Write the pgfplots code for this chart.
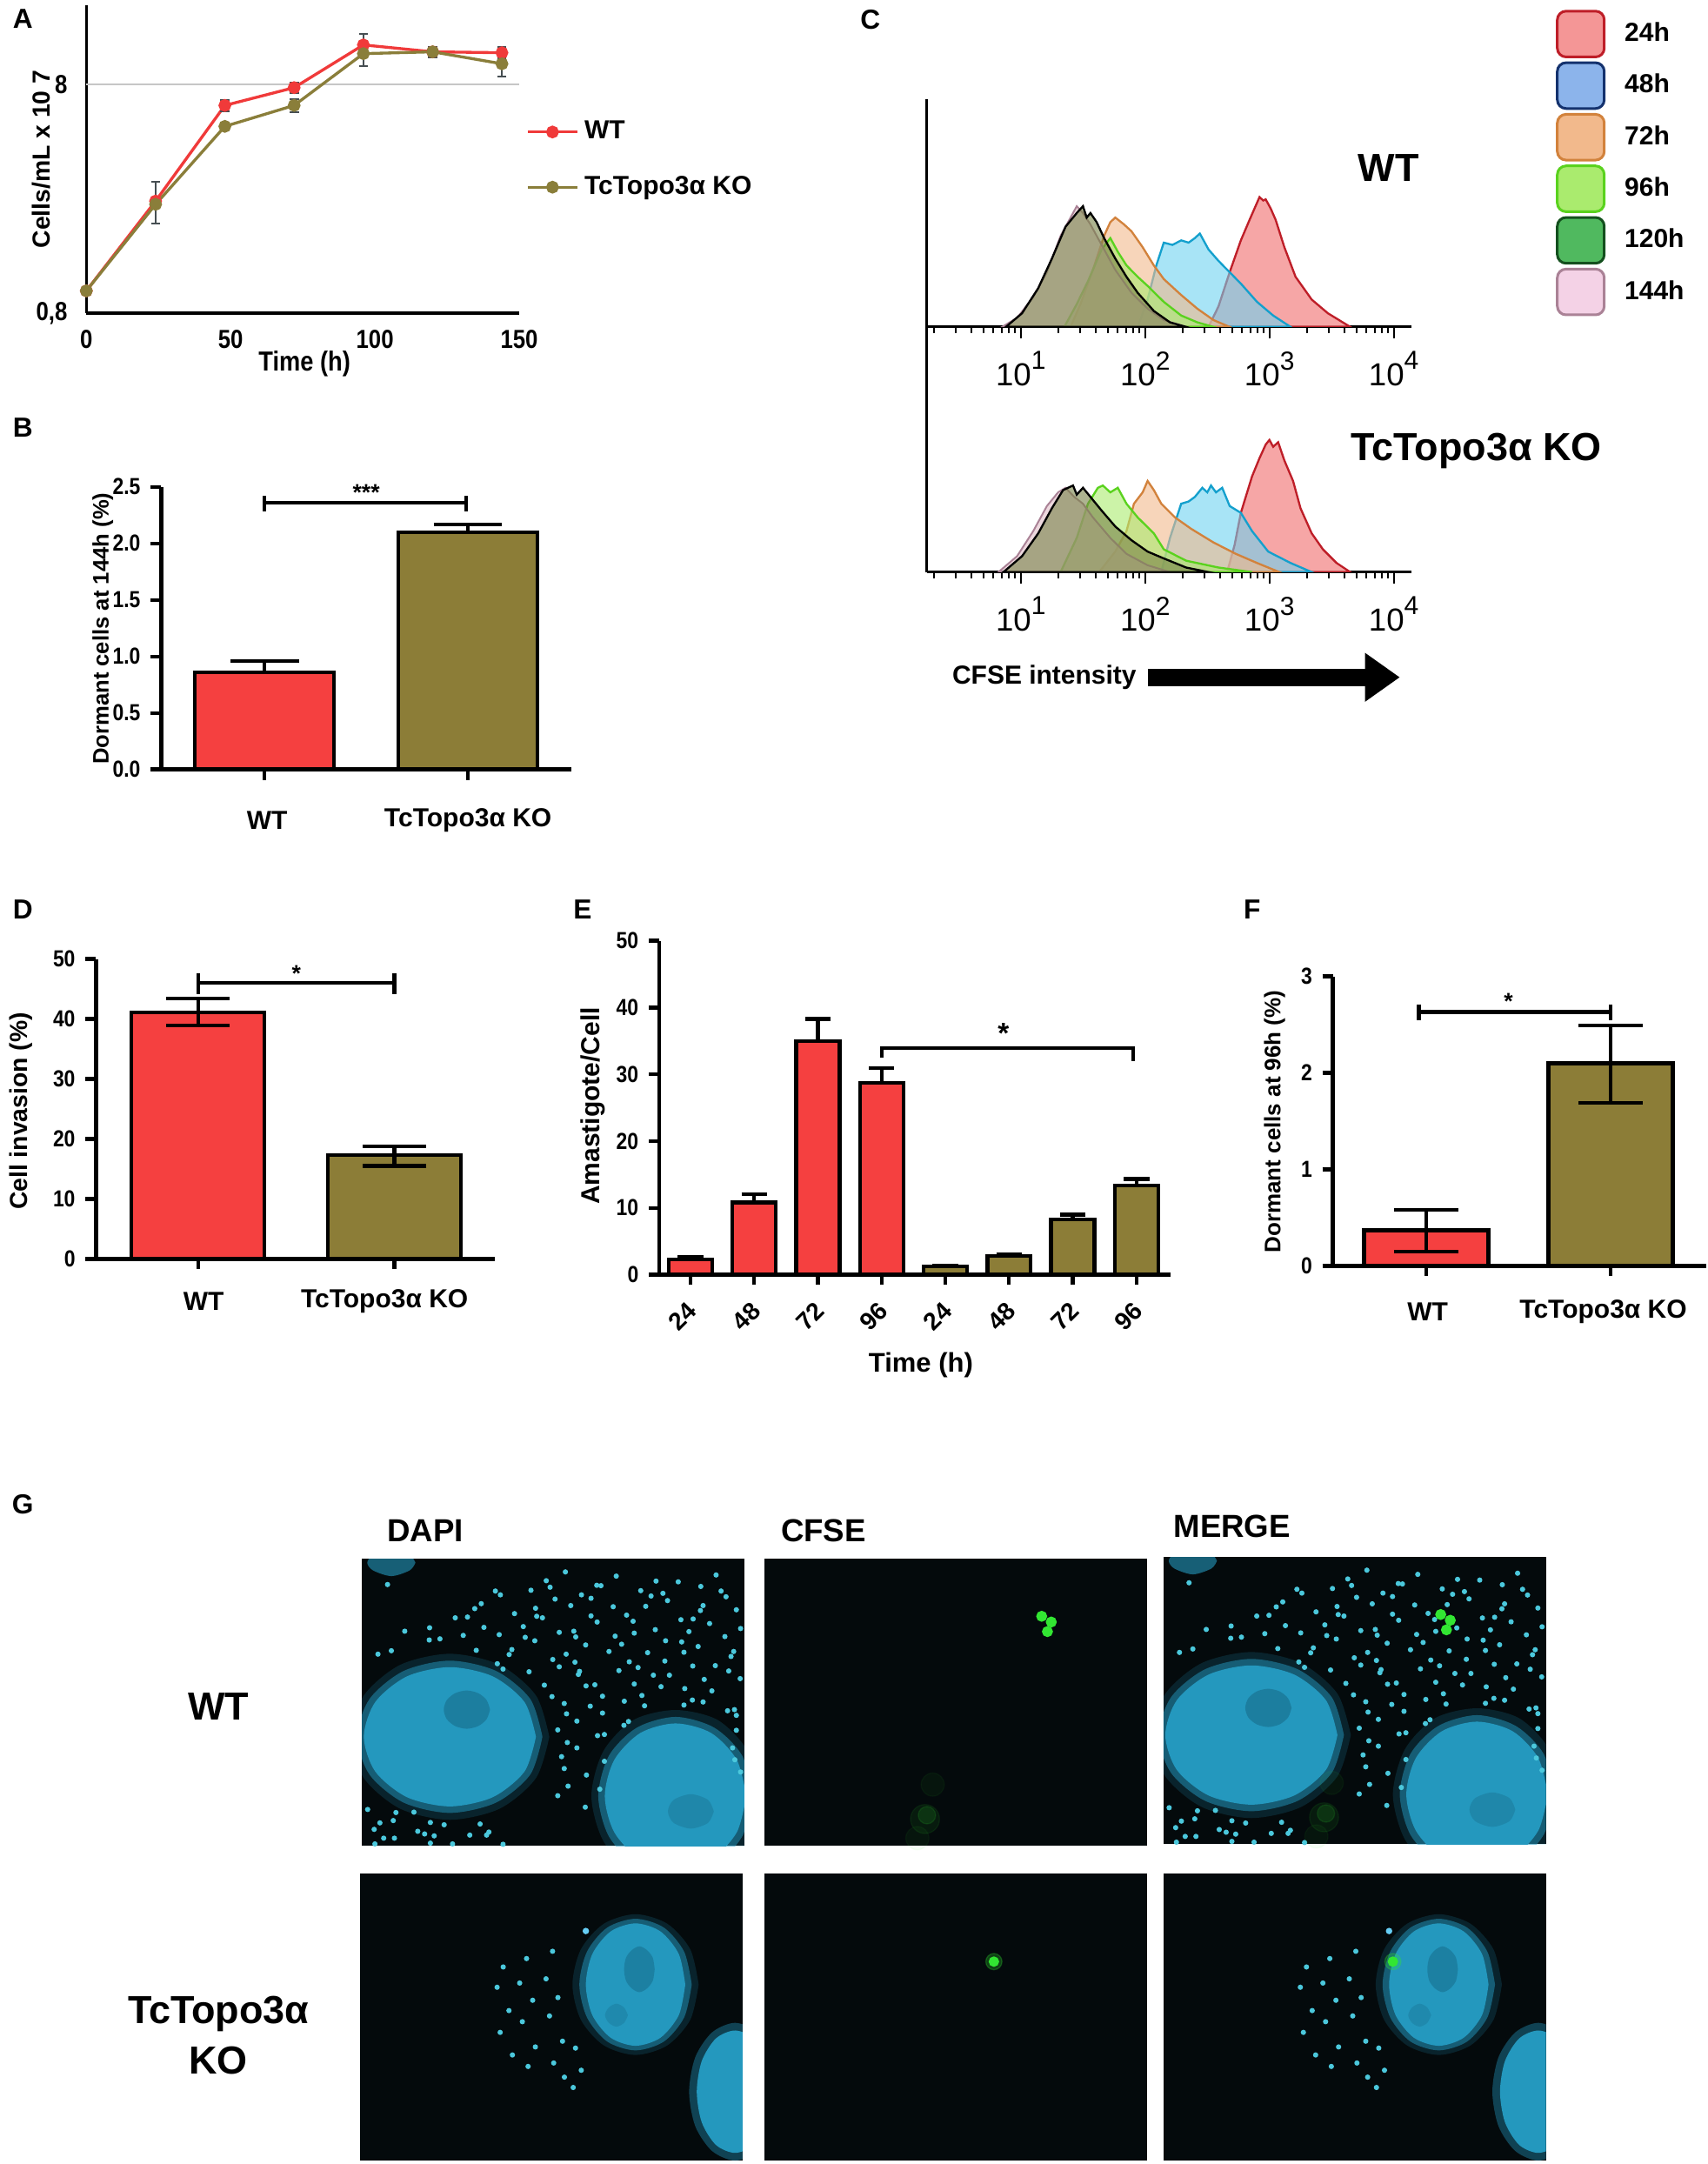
\documentclass[border=0pt]{standalone}
\usepackage{fontspec}
\setmainfont{Liberation Sans}
\newfontfamily\nb[FakeStretch=0.86]{Liberation Sans}
\usepackage{pgfplots}
\usepackage{pgfplotstable}
\pgfplotsset{compat=1.18}
\usetikzlibrary{arrows.meta}
\newcommand\fs[1]{\fontsize{#1pt}{#1pt}\selectfont}
\newcommand\tp[1]{10\raisebox{0.95ex}{\fs{9}#1}}
\definecolor{wtred}{RGB}{245,64,64}
\definecolor{kool}{RGB}{140,125,55}
\definecolor{lred}{RGB}{240,58,58}
\definecolor{lol}{RGB}{138,126,58}
\definecolor{errg}{RGB}{70,78,82}
\definecolor{c24f}{RGB}{244,150,150}\definecolor{c24d}{RGB}{190,30,40}
\definecolor{c48f}{RGB}{110,210,240}\definecolor{c48d}{RGB}{20,160,205}
\definecolor{c48l}{RGB}{140,180,235}\definecolor{c48ld}{RGB}{20,50,110}
\definecolor{c72f}{RGB}{242,185,140}\definecolor{c72d}{RGB}{210,130,60}
\definecolor{c96f}{RGB}{170,235,110}\definecolor{c96d}{RGB}{90,210,30}
\definecolor{c120f}{RGB}{120,130,70}\definecolor{c120l}{RGB}{80,185,95}\definecolor{c120ld}{RGB}{20,80,30}
\definecolor{c144f}{RGB}{225,190,200}\definecolor{c144d}{RGB}{170,130,150}
\definecolor{c144l}{RGB}{244,210,230}
\definecolor{imgbg}{RGB}{4,10,12}
\definecolor{nuc}{RGB}{36,152,190}
\definecolor{nucd}{RGB}{22,105,135}
\definecolor{dotc}{RGB}{75,200,220}
\definecolor{gfp}{RGB}{50,230,50}

\pgfplotstableread{
x y
48.2 69.3
53.2 71.6
61.4 68.1
66.5 70.5
76.9 69.2
82.7 69.0
92.6 70.8
34.9 66.6
44.2 66.8
49.2 67.6
57.4 65.6
62.5 68.0
72.9 66.7
78.7 66.0
88.6 67.8
93.9 66.6
31.2 63.3
36.2 65.6
45.4 62.1
50.5 64.5
59.9 64.7
65.7 62.5
75.6 65.3
79.9 64.1
89.2 62.8
95.2 65.1
24.4 59.6
29.5 62.0
39.9 60.7
45.7 60.0
54.6 62.8
59.9 60.1
69.2 60.3
74.2 62.6
83.4 59.1
88.5 61.5
97.9 61.7
17.7 57.0
27.6 59.8
31.9 57.1
42.2 57.3
47.2 59.6
55.4 56.1
61.5 58.5
70.9 58.7
76.7 56.5
86.6 59.3
90.9 58.1
99.0 56.8
11.2 56.1
20.4 54.1
26.5 55.0
35.9 55.2
42.7 54.5
51.6 55.8
55.9 54.6
66.2 54.8
71.2 55.6
79.4 53.6
85.5 56.0
94.9 54.7
7.7 51.0
17.6 53.8
29.9 51.1
39.2 51.3
45.2 53.6
53.4 50.1
58.5 52.5
67.9 52.7
74.7 50.5
83.6 53.3
87.9 52.1
97.2 50.8
4.2 50.1
35.4 47.6
38.5 50.0
49.9 48.7
55.7 48.0
64.6 50.8
69.9 48.1
79.2 48.3
84.2 50.6
92.4 47.1
96.5 49.5
36.9 46.2
43.7 45.5
51.6 46.8
56.9 45.6
67.2 45.8
72.2 46.6
80.4 44.6
86.5 47.0
95.9 45.7
47.7 42.0
56.6 44.8
60.9 42.1
71.2 42.3
76.2 44.6
84.4 41.1
89.5 43.5
98.9 43.7
49.7 39.0
58.6 41.8
62.9 39.1
73.2 39.3
78.2 41.6
86.4 38.1
91.5 40.5
52.9 37.2
59.7 36.5
68.6 37.8
73.9 36.6
84.2 36.8
89.2 37.6
97.4 35.6
53.5 34.5
62.9 34.7
69.7 32.5
95.6 35.3
97.9 34.1
51.2 30.3
56.2 32.6
63.4 29.1
68.5 31.5
97.9 30.2
53.7 27.0
61.6 28.8
96.9 25.6
52.2 23.3
56.2 25.6
63.4 22.1
97.5 22.5
52.9 20.2
58.7 18.5
99.0 19.3
53.9 15.6
62.2 14.8
51.2 13.1
58.4 10.1
1.5 9.5
8.9 8.7
4.7 6.0
13.6 8.8
17.9 6.1
3.2 4.3
8.2 6.6
16.4 3.1
21.5 5.5
30.9 5.7
5.7 2.0
14.6 3.8
18.9 2.6
28.2 2.8
33.2 3.6
3.4 0.5
8.5 2.0
17.9 0.7
23.7 0.5
32.6 2.8
36.9 0.4
6.7 68.3
}\wtdots

\pgfplotstableread{
x y
37.4 50.6
35.8 45.3
38.9 39.2
36.6 33.5
39.8 27.6
43.5 52.8
41.7 46.4
45.1 41.9
42.4 36.3
45.8 29.7
43.9 24.6
50.3 54.7
48.6 47.5
51.7 42.6
49.5 37.8
52.9 31.2
50.6 25.5
53.4 21.8
56.3 29.4
57.8 23.6
55.7 19.1
}\kodots

\newcommand\wtdapi{%
\addplot[fill=nuc, draw=none, opacity=0.18, smooth] coordinates {(49,28.5)(45.5,39.3)(36,47.3)(23,50.2)(10,47.3)(0.5,39.3)(-3,28.5)(0.5,17.7)(10,9.7)(23,6.8)(36,9.7)(45.5,17.7)(49,28.5)};
\addplot[fill=nuc, draw=none, opacity=0.5, smooth] coordinates {(47.2,28.5)(44,38.4)(35.1,45.7)(23,48.4)(10.9,45.7)(2,38.4)(-1.2,28.5)(2,18.6)(10.9,11.3)(23,8.6)(35.1,11.3)(44,18.6)(47.2,28.5)};
\addplot[fill=nuc, draw=none, smooth] coordinates {(45.5,28.5)(42.5,37.6)(34.2,44.3)(23,46.7)(11.8,44.3)(3.5,37.6)(0.5,28.5)(3.5,19.4)(11.8,12.7)(23,10.3)(34.2,12.7)(42.5,19.4)(45.5,28.5)};
\addplot[fill=nucd, draw=none, opacity=0.55, smooth] coordinates {(33.5,35.6)(32.6,38.1)(30.4,39.9)(27.4,40.6)(24.4,39.9)(22.2,38.1)(21.4,35.6)(22.2,33.1)(24.4,31.3)(27.4,30.6)(30.4,31.3)(32.6,33.1)(33.5,35.6)};
\addplot[fill=nuc, draw=none, opacity=0.18, smooth] coordinates {(104,13)(100.9,24.7)(93,32.9)(82,35.5)(71,32.9)(63.1,24.7)(60,13)(63.1,1.3)(71,-6.9)(82,-9.5)(93,-6.9)(100.9,1.3)(104,13)};
\addplot[fill=nuc, draw=none, opacity=0.5, smooth] coordinates {(102.2,13)(99.4,23.6)(92.1,30.9)(82,33.7)(71.9,30.9)(64.6,23.6)(61.8,13)(64.6,2.4)(71.9,-4.9)(82,-7.7)(92.1,-4.9)(99.4,2.4)(102.2,13)};
\addplot[fill=nuc, draw=none, smooth] coordinates {(100.5,13)(98,22.5)(91.3,29.5)(82,32)(72.8,29.5)(66,22.5)(63.5,13)(66,3.5)(72.8,-3.5)(82,-6)(91.3,-3.5)(98,3.5)(100.5,13)};
\addplot[fill=nucd, draw=none, opacity=0.35, smooth] coordinates {(92,9)(90.5,12)(86,13.5)(81.5,12)(80,9)(81.5,6)(86,4.5)(90.5,6)(92,9)};
\addplot[fill=nuc, draw=none, opacity=0.6, smooth] coordinates {(14,74)(12.5,76)(7.7,77.5)(2.9,76)(1.4,74)(2.9,72)(7.7,70.5)(12.5,72)(14,74)};
\addplot[only marks, mark=*, mark size=0.7pt, color=dotc, mark options={draw=none}] table {\wtdots};
}
\newcommand\kodapi{%
\addplot[fill=nuc, draw=none, opacity=0.18, smooth] coordinates {(88.5,46)(86.3,55.2)(80.3,61.9)(72,64.4)(63.7,61.9)(57.7,55.2)(55.5,46)(57.7,36.8)(63.7,30.1)(72,27.6)(80.3,30.1)(86.3,36.8)(88.5,46)};
\addplot[fill=nuc, draw=none, opacity=0.5, smooth] coordinates {(86.7,46)(84.7,54.6)(79.4,60.9)(72,63.2)(64.6,60.9)(59.3,54.6)(57.3,46)(59.3,37.4)(64.6,31.1)(72,28.8)(79.4,31.1)(84.7,37.4)(86.7,46)};
\addplot[fill=nuc, draw=none, smooth] coordinates {(85,46)(83.3,54)(78.5,59.9)(72,62)(65.5,59.9)(60.7,54)(59,46)(60.7,38)(65.5,32.1)(72,30)(78.5,32.1)(83.3,38)(85,46)};
\addplot[fill=nucd, draw=none, opacity=0.5, smooth] coordinates {(77,50)(76.5,53)(75,55)(73,56)(71,55)(69.5,53)(69,50)(69.5,47)(71,45)(73,44)(75,45)(76.5,47)(77,50)};
\addplot[fill=nucd, draw=none, opacity=0.3, smooth] coordinates {(70,38)(69,40)(67,41)(65,40)(64,38)(65,36)(67,35)(69,36)(70,38)};
\addplot[fill=nuc, draw=none, opacity=0.4, smooth] coordinates {(110,18)(108.4,27)(104,33.5)(98,36)(92,33.5)(87.6,27)(86,18)(87.6,9)(92,2.5)(98,0)(104,2.5)(108.4,9)(110,18)};
\addplot[fill=nuc, draw=none, smooth] coordinates {(108,18)(106.7,26)(103,31.9)(98,34)(93,31.9)(89.3,26)(88,18)(89.3,10)(93,4.1)(98,2)(103,4.1)(106.7,10)(108,18)};
\addplot[only marks, mark=*, mark size=0.7pt, color=dotc, mark options={draw=none}] table {\kodots};
\addplot[only marks, mark=*, mark size=0.9pt, color=cyan!60!white, mark options={draw=none}] coordinates {(59,60)};
}
\newcommand\wtgfp{%
\addplot[only marks, mark=*, mark size=5pt, color=gfp, opacity=0.08, mark options={draw=none}] coordinates {(42,7)};
\addplot[only marks, mark=*, mark size=3pt, color=gfp, opacity=0.12, mark options={draw=none}] coordinates {(42.5,8)};
\addplot[only marks, mark=*, mark size=4pt, color=gfp, opacity=0.05, mark options={draw=none}] coordinates {(44,16)(40,2)};
\addplot[only marks, mark=*, mark size=1.7pt, color=gfp, mark options={draw=none}] coordinates {(72.5,60)(75,58.5)(74,56)};
}
\newcommand\kogfp{%
\addplot[only marks, mark=*, mark size=2.8pt, color=gfp, opacity=0.25, mark options={draw=none}] coordinates {(60,52)};
\addplot[only marks, mark=*, mark size=1.6pt, color=gfp, mark options={draw=none}] coordinates {(60,52)};
}

\pgfplotsset{
 gp/.style={scale only axis, anchor=south west, axis lines*=left,
  axis line style={line width=1.4pt,-}, tick align=outside, major tick length=3.6pt,
  tick style={line width=1.3pt, black}, ytick pos=left, xtick pos=bottom,
  yticklabel style={font=\nb\bfseries\fs{8}}, /pgf/number format/assume math mode=true,
  xticklabels={}, clip=false},
 ebar/.style 2 args={error bars/.cd, y dir=#2, y explicit, error bar style={line width=1.3pt, black},
  error mark options={rotate=90, line width=1.3pt, mark size=#1, black}},
 hist/.style={scale only axis, anchor=south west, width=167.1pt, xmin=0.245, xmax=4.14, ymin=0,
  axis x line*=bottom, axis y line*=left, axis line style={line width=0.9pt,-},
  ytick=\empty, xtick={1,2,3,4}, xticklabels={\tp1,\tp2,\tp3,\tp4},
  xticklabel style={font=\fs{11}, yshift=-1pt},
  minor xtick={0.301,0.477,0.602,0.699,0.778,0.845,0.903,0.954,1.301,1.477,1.602,1.699,1.778,1.845,1.903,1.954,2.301,2.477,2.602,2.699,2.778,2.845,2.903,2.954,3.301,3.477,3.602,3.699,3.778,3.845,3.903,3.954},
  tick align=outside, major tick length=4pt, minor tick length=2.2pt, tick style={black, line width=0.6pt}},
 img/.style={scale only axis, anchor=south west, width=132pt, height=99pt, xmin=0, xmax=100, ymin=0, ymax=75,
  axis lines=none, ticks=none, axis background/.style={fill=imgbg}, clip=true}
}

\begin{document}
\begin{tikzpicture}
\begin{scope}[x=0.3pt,y=-0.3pt]
\useasboundingbox (0,0) rectangle (1955,2488);
\end{scope}

%================ A
\begin{axis}[at={(92*0.3pt,-359*0.3pt)}, anchor=south west, scale only axis, width=149.4pt, height=106.2pt,
  xmin=0, xmax=150, ymode=log, ymin=0.8, ymax=17.75,
  axis lines*=left, axis line style={line width=1pt,-},
  xtick={0,50,100,150}, ytick={0.8,8}, yticklabels={{0,8},8}, yminorticks=false,
  major tick length=0pt, /pgf/number format/assume math mode=true,
  xticklabel style={font=\nb\bfseries\fs{9}, yshift=-2.5pt},
  yticklabel style={font=\nb\bfseries\fs{9}, xshift=-3pt},
  legend style={at={(1.015,0.645)}, anchor=north west, draw=none, fill=none,
    font=\bfseries\fs{9}, row sep=7.3pt, inner sep=0pt},
  legend cell align=left, clip=false]
\addplot[gray!45, line width=0.5pt, forget plot] coordinates {(0,8)(150,8)};
\addplot[lred, line width=1pt, mark=*, mark size=1.7pt] coordinates {(0,1.0)(24,2.47)(48,6.47)(72,7.74)(96,11.9)(120,11.1)(144,11.0)};
\addlegendentry{WT}
\addplot[lol, line width=1pt, mark=*, mark size=1.7pt] coordinates {(0,1.0)(24,2.39)(48,5.24)(72,6.47)(96,10.9)(120,11.1)(144,9.84)};
\addlegendentry{TcTopo3α KO}
\addplot[draw=none, mark=none, forget plot, error bars/.cd, y dir=both, y explicit,
  error bar style={errg, line width=0.6pt}, error mark options={rotate=90, errg, line width=0.6pt, mark size=1.6pt}]
  coordinates {(24,2.39) += (0,0.6) -= (0,0.42) (48,6.47) +- (0,0.38) (72,7.74) +- (0,0.43) (72,6.47) +- (0,0.45) (96,11.9) += (0,1.35) -= (0,0.9) (96,10.9) += (0,0.8) -= (0,1.26) (120,11.1) +- (0,0.6) (144,11.0) += (0,0.7) -= (0,0.5) (144,9.84) += (0,0.6) -= (0,1.2)};
\end{axis}

%================ B
\begin{axis}[gp, at={(178*0.3pt,-884*0.3pt)}, width=141.6pt, height=97.5pt, xmin=-0.509, xmax=1.509, ymin=0, ymax=2.5,
  xtick={0,1}, ytick={0,0.5,1,1.5,2,2.5},
  yticklabel style={/pgf/number format/.cd, fixed, fixed zerofill, precision=1}]
\addplot[ybar, bar shift=0pt, bar width=0.684, fill=wtred, draw=black, line width=1.3pt, ebar={11.8pt}{plus}]
  coordinates {(0,0.86) +- (0,0.10)};
\addplot[ybar, bar shift=0pt, bar width=0.684, fill=kool, draw=black, line width=1.3pt, ebar={11.8pt}{plus}]
  coordinates {(1,2.10) +- (0,0.07)};
\addplot[black, line width=1.3pt] coordinates {(0,2.36)(0.99,2.36)};
\addplot[black, line width=1.3pt] coordinates {(0,2.42)(0,2.28)};
\addplot[black, line width=1.3pt] coordinates {(0.99,2.42)(0.99,2.28)};
\node[font=\bfseries\fs{8}] at (axis cs:0.5,2.45) {***};
\end{axis}

%================ C top
\begin{axis}[hist, at={(1059*0.3pt,-375*0.3pt)}, height=78.6pt, ymax=1,
  legend style={at={(1.28,1.42)}, anchor=north west, draw=none, fill=none,
   font=\bfseries\fs{9}, row sep=1.1pt, nodes={inner sep=1.6pt}, column sep=5pt},
  legend cell align=left,
  legend image code/.code={\draw[rounded corners=3pt, line width=0.9pt, #1] (0pt,-7.9pt) rectangle (16.2pt,7.9pt);}]
\addlegendimage{fill=c24f, draw=c24d}\addlegendentry{24h}
\addlegendimage{fill=c48l, draw=c48ld}\addlegendentry{48h}
\addlegendimage{fill=c72f, draw=c72d}\addlegendentry{72h}
\addlegendimage{fill=c96f, draw=c96d}\addlegendentry{96h}
\addlegendimage{fill=c120l, draw=c120ld}\addlegendentry{120h}
\addlegendimage{fill=c144l, draw=c144d}\addlegendentry{144h}
\addplot[forget plot, fill=c24f, fill opacity=0.85, draw=c24d, line width=0.7pt] coordinates {(2.51,0)(2.59,0.09)(2.68,0.24)(2.77,0.38)(2.84,0.47)(2.88,0.52)(2.92,0.57)(2.95,0.555)(2.97,0.56)(3.01,0.52)(3.05,0.47)(3.12,0.35)(3.21,0.22)(3.34,0.12)(3.47,0.06)(3.65,0)} \closedcycle;
\addplot[forget plot, fill=c48f, fill opacity=0.6, draw=c48d, line width=0.7pt] coordinates {(1.94,0)(2.02,0.12)(2.09,0.27)(2.15,0.37)(2.22,0.36)(2.29,0.38)(2.35,0.37)(2.40,0.39)(2.44,0.41)(2.47,0.38)(2.51,0.34)(2.59,0.29)(2.68,0.24)(2.77,0.19)(2.90,0.11)(3.03,0.05)(3.17,0)} \closedcycle;
\addplot[forget plot, fill=c72f, fill opacity=0.6, draw=c72d, line width=0.7pt] coordinates {(1.40,0)(1.48,0.10)(1.58,0.25)(1.67,0.40)(1.72,0.46)(1.76,0.48)(1.83,0.45)(1.89,0.42)(1.98,0.35)(2.07,0.27)(2.15,0.21)(2.29,0.14)(2.42,0.08)(2.55,0.03)(2.68,0)} \closedcycle;
\addplot[forget plot, fill=c96f, fill opacity=0.6, draw=c96d, line width=0.7pt] coordinates {(1.35,0)(1.45,0.10)(1.54,0.20)(1.65,0.34)(1.72,0.39)(1.78,0.33)(1.85,0.27)(1.94,0.22)(2.02,0.18)(2.15,0.11)(2.29,0.05)(2.42,0.02)(2.55,0)} \closedcycle;
\addplot[forget plot, fill=c144f, fill opacity=0.6, draw=c144d, line width=0.6pt] coordinates {(0.85,0)(0.97,0.04)(1.10,0.13)(1.21,0.24)(1.32,0.40)(1.38,0.46)(1.41,0.49)(1.45,0.53)(1.50,0.50)(1.56,0.45)(1.65,0.36)(1.76,0.25)(1.89,0.15)(2.02,0.08)(2.15,0.03)(2.33,0)} \closedcycle;
\addplot[forget plot, fill=c120f, fill opacity=0.6, draw=black, line width=0.7pt] coordinates {(0.88,0)(1.01,0.06)(1.14,0.17)(1.25,0.30)(1.36,0.44)(1.42,0.48)(1.45,0.50)(1.50,0.53)(1.53,0.48)(1.56,0.50)(1.61,0.46)(1.67,0.39)(1.76,0.30)(1.85,0.22)(1.94,0.15)(2.07,0.07)(2.20,0.02)(2.33,0)} \closedcycle;
\end{axis}
%================ C bottom
\begin{axis}[hist, at={(1059*0.3pt,-657*0.3pt)}, height=84.6pt, ymax=1.076]
\addplot[fill=c24f, fill opacity=0.85, draw=c24d, line width=0.7pt] coordinates {(2.66,0)(2.72,0.12)(2.77,0.26)(2.86,0.42)(2.92,0.50)(2.97,0.56)(3.00,0.58)(3.03,0.55)(3.07,0.57)(3.12,0.49)(3.19,0.40)(3.25,0.28)(3.34,0.17)(3.43,0.10)(3.54,0.04)(3.65,0)} \closedcycle;
\addplot[fill=c48f, fill opacity=0.6, draw=c48d, line width=0.7pt] coordinates {(2.13,0)(2.20,0.15)(2.29,0.30)(2.35,0.31)(2.40,0.33)(2.46,0.37)(2.50,0.35)(2.53,0.38)(2.57,0.35)(2.62,0.37)(2.68,0.29)(2.77,0.26)(2.86,0.18)(2.99,0.09)(3.17,0.04)(3.34,0)} \closedcycle;
\addplot[fill=c72f, fill opacity=0.6, draw=c72d, line width=0.7pt] coordinates {(1.63,0)(1.76,0.09)(1.85,0.18)(1.91,0.30)(1.98,0.35)(2.02,0.40)(2.07,0.36)(2.13,0.30)(2.24,0.24)(2.37,0.19)(2.55,0.13)(2.73,0.08)(2.90,0.04)(3.08,0)} \closedcycle;
\addplot[fill=c96f, fill opacity=0.6, draw=c96d, line width=0.7pt] coordinates {(1.32,0)(1.45,0.15)(1.54,0.30)(1.62,0.37)(1.66,0.38)(1.72,0.35)(1.78,0.37)(1.85,0.30)(1.94,0.24)(2.07,0.17)(2.15,0.10)(2.33,0.05)(2.59,0.02)(2.86,0)} \closedcycle;
\addplot[fill=c144f, fill opacity=0.6, draw=c144d, line width=0.6pt] coordinates {(0.82,0)(0.97,0.07)(1.10,0.18)(1.21,0.29)(1.30,0.35)(1.36,0.37)(1.43,0.33)(1.50,0.30)(1.58,0.24)(1.72,0.15)(1.85,0.08)(2.02,0.03)(2.20,0)} \closedcycle;
\addplot[fill=c120f, fill opacity=0.6, draw=black, line width=0.7pt] coordinates {(0.86,0)(1.01,0.07)(1.14,0.17)(1.25,0.28)(1.34,0.36)(1.42,0.38)(1.45,0.34)(1.50,0.37)(1.56,0.33)(1.65,0.27)(1.76,0.20)(1.89,0.14)(2.02,0.09)(2.15,0.06)(2.33,0.02)(2.51,0)} \closedcycle;
\end{axis}

%================ D
\begin{axis}[gp, at={(103*0.3pt,-1447*0.3pt)}, width=137.7pt, height=103.5pt, xmin=-0.52, xmax=1.511, ymin=0, ymax=50,
  xtick={0,1}, ytick={0,10,20,30,40,50}]
\addplot[ybar, bar shift=0pt, bar width=0.677, fill=wtred, draw=black, line width=1.3pt, ebar={11pt}{both}]
  coordinates {(0,41.1) += (0,2.3) -= (0,2.2)};
\addplot[ybar, bar shift=0pt, bar width=0.677, fill=kool, draw=black, line width=1.3pt, ebar={11pt}{both}]
  coordinates {(1,17.3) += (0,1.5) -= (0,1.8)};
\addplot[black, line width=1.3pt] coordinates {(0,46)(1,46)};
\addplot[black, line width=1.3pt] coordinates {(0,47.6)(0,44.2)};
\addplot[black, line width=1.3pt] coordinates {(1,47.6)(1,44.2)};
\node[font=\bfseries\fs{8}] at (axis cs:0.5,47.6) {*};
\end{axis}

%================ E
\begin{axis}[gp, at={(751*0.3pt,-1465*0.3pt)}, width=176.4pt, height=115.2pt, xmin=-0.491, xmax=7.531, ymin=0, ymax=50,
  xtick={0,1,2,3,4,5,6,7}, ytick={0,10,20,30,40,50},
  xticklabels={24,48,72,96,24,48,72,96},
  xticklabel style={font=\bfseries\fs{8.5}, inner sep=0.6pt, xshift=1.2pt, yshift=-6.8pt, rotate=45, anchor=east}]
\addplot[ybar, bar shift=0pt, bar width=0.682, fill=wtred, draw=black, line width=1.3pt, ebar={4.4pt}{plus}]
  coordinates {(0,2.3) +- (0,0.3) (1,10.8) +- (0,1.2) (2,35.0) +- (0,3.3) (3,28.7) +- (0,2.2)};
\addplot[ybar, bar shift=0pt, bar width=0.682, fill=kool, draw=black, line width=1.3pt, ebar={4.4pt}{plus}]
  coordinates {(4,1.2) +- (0,0.15) (5,2.8) +- (0,0.25) (6,8.3) +- (0,0.7) (7,13.3) +- (0,1.0)};
\addplot[black, line width=1.3pt] coordinates {(3,32.5)(3,33.9)(6.95,33.9)(6.95,32.0)};
\node[font=\bfseries\fs{10}] at (axis cs:4.91,36.2) {*};
\end{axis}

%================ F
\begin{axis}[gp, at={(1526*0.3pt,-1455*0.3pt)}, width=128.7pt, height=99.9pt, xmin=-0.507, xmax=1.517, ymin=0, ymax=3,
  xtick={0,1}, ytick={0,1,2,3}]
\addplot[ybar, bar shift=0pt, bar width=0.675, fill=wtred, draw=black, line width=1.3pt, ebar={11pt}{both}]
  coordinates {(0,0.37) += (0,0.21) -= (0,0.22)};
\addplot[ybar, bar shift=0pt, bar width=0.675, fill=kool, draw=black, line width=1.3pt, ebar={11pt}{both}]
  coordinates {(1,2.10) += (0,0.39) -= (0,0.41)};
\addplot[black, line width=1.3pt] coordinates {(-0.04,2.63)(1,2.63)};
\addplot[black, line width=1.3pt] coordinates {(-0.04,2.71)(-0.04,2.55)};
\addplot[black, line width=1.3pt] coordinates {(1,2.71)(1,2.55)};
\node[font=\bfseries\fs{8}] at (axis cs:0.446,2.74) {*};
\end{axis}

%================ G
\begin{axis}[img, at={(409*0.3pt,-2122*0.3pt)}]
\wtdapi
\end{axis}
\begin{axis}[img, at={(872*0.3pt,-2122*0.3pt)}]
\wtgfp
\end{axis}
\begin{axis}[img, at={(1331*0.3pt,-2120*0.3pt)}]
\wtdapi
\wtgfp
\end{axis}
\begin{axis}[img, at={(407*0.3pt,-2484*0.3pt)}]
\kodapi
\end{axis}
\begin{axis}[img, at={(872*0.3pt,-2484*0.3pt)}]
\kogfp
\end{axis}
\begin{axis}[img, at={(1331*0.3pt,-2484*0.3pt)}]
\kodapi
\kogfp
\end{axis}

\begin{scope}[x=0.3pt,y=-0.3pt]
\node[font=\bfseries\fs{9.5}] at (19,21) {A};
\node[font=\bfseries\fs{8.5}, rotate=90] at (40,182) {Cells/mL x 10 7};
\node[font=\nb\bfseries\fs{9.5}] at (343,417) {Time (h)};
\node[font=\bfseries\fs{9.5}] at (19,491) {B};
\node[font=\bfseries\fs{7.7}, rotate=90] at (111,722) {Dormant cells at 144h (\%)};
\node[font=\bfseries\fs{9}] at (300,943) {WT};
\node[font=\bfseries\fs{9}] at (531,943) {TcTopo3α KO};
\node[font=\bfseries\fs{9.5}] at (994,22) {C};
\node[font=\bfseries\fs{13.5}] at (1590,192) {WT};
\node[font=\bfseries\fs{13.5}] at (1691,518) {TcTopo3α KO};
\node[font=\bfseries\fs{9}] at (1194,778) {CFSE intensity};
\draw[line width=6pt, -{Triangle[length=12pt, width=16pt]}] (1313,778) -- (1603,778);
\node[font=\bfseries\fs{9.5}] at (19,1045) {D};
\node[font=\bfseries\fs{8.5}, rotate=90] at (17,1277) {Cell invasion (\%)};
\node[font=\bfseries\fs{9}] at (227,1496) {WT};
\node[font=\bfseries\fs{9}] at (435,1496) {TcTopo3α KO};
\node[font=\bfseries\fs{9.5}] at (663,1045) {E};
\node[font=\bfseries\fs{9}, rotate=90] at (675,1271) {Amastigote/Cell};
\node[font=\bfseries\fs{9.3}] at (1052,1569) {Time (h)};
\node[font=\bfseries\fs{9.5}] at (1433,1045) {F};
\node[font=\bfseries\fs{7.8}, rotate=90] at (1459,1289) {Dormant cells at 96h (\%)};
\node[font=\bfseries\fs{9}] at (1635,1508) {WT};
\node[font=\bfseries\fs{9}] at (1837,1508) {TcTopo3α KO};
\node[font=\bfseries\fs{9.5}] at (19,1729) {G};
\node[font=\bfseries\fs{11}] at (482,1760) {DAPI};
\node[font=\bfseries\fs{11}] at (940,1760) {CFSE};
\node[font=\bfseries\fs{11}] at (1410,1755) {MERGE};
\node[font=\bfseries\fs{13.5}] at (244,1962) {WT};
\node[font=\bfseries\fs{13.5}] at (244,2315) {TcTopo3α};
\node[font=\bfseries\fs{13.5}] at (244,2369) {KO};
\end{scope}
\end{tikzpicture}
\end{document}
